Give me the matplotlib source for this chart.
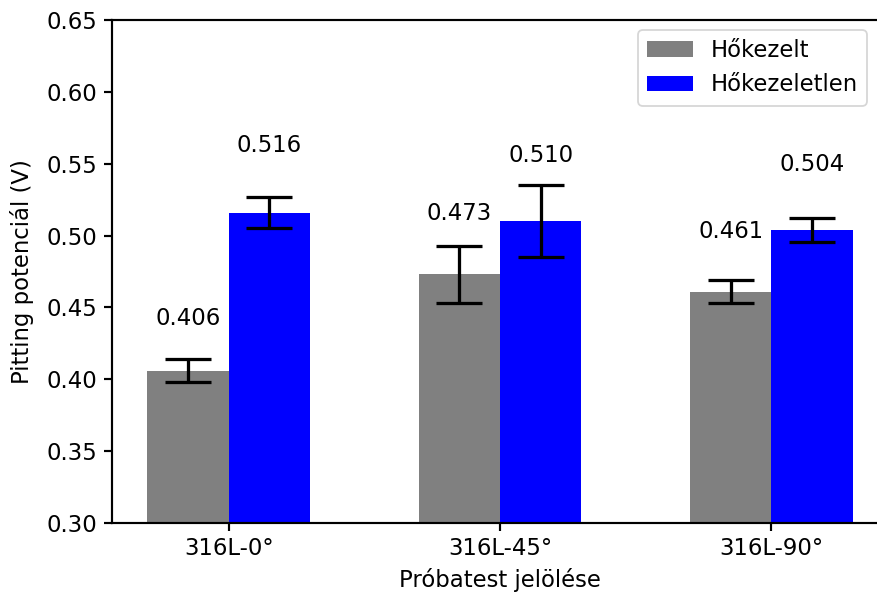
import matplotlib
matplotlib.use("Agg")
import matplotlib.pyplot as plt
import numpy as np

categories = ["316L-0°", "316L-45°", "316L-90°"]
hokezelt = [0.406, 0.473, 0.461]
hokezelt_err = [0.008, 0.020, 0.008]
hokezeletlen = [0.516, 0.510, 0.504]
hokezeletlen_err = [0.0105, 0.025, 0.0085]

plt.rcParams["font.size"] = 12.6
plt.rcParams["lines.linewidth"] = 1.8
plt.rcParams["axes.linewidth"] = 1.2
plt.rcParams["xtick.major.width"] = 1.2
plt.rcParams["ytick.major.width"] = 1.2
plt.rcParams["xtick.major.size"] = 4.5
plt.rcParams["ytick.major.size"] = 4.5

fig = plt.figure(figsize=(877/130, 596/130), dpi=130)
ax = fig.add_axes([112/877, 1-523/596, (888-112)/877, (523-20)/596])

x = np.arange(len(categories))
w = 0.3
ax.bar(x - w/2, hokezelt, w, yerr=hokezelt_err, capsize=13, color="gray", label="Hőkezelt",
       error_kw=dict(elinewidth=1.8, capthick=1.8))
ax.bar(x + w/2, hokezeletlen, w, yerr=hokezeletlen_err, capsize=13, color="blue", label="Hőkezeletlen",
       error_kw=dict(elinewidth=1.8, capthick=1.8))

for xi, v in zip(x - w/2, hokezelt):
    ax.text(xi, v*1.09, f"{v:.3f}", ha="center", va="center")
for xi, v in zip(x + w/2, hokezeletlen):
    ax.text(xi, v*1.09, f"{v:.3f}", ha="center", va="center")

ax.set_ylim(0.30, 0.65)
ax.set_xticks(x)
ax.set_xticklabels(categories)
ax.set_xlabel("Próbatest jelölése")
ax.set_ylabel("Pitting potenciál (V)", labelpad=7)
ax.legend(loc="upper right", bbox_to_anchor=(867/877, 1-30/596), bbox_transform=fig.transFigure,
          borderaxespad=0)
fig.savefig("out.png", dpi=130)
